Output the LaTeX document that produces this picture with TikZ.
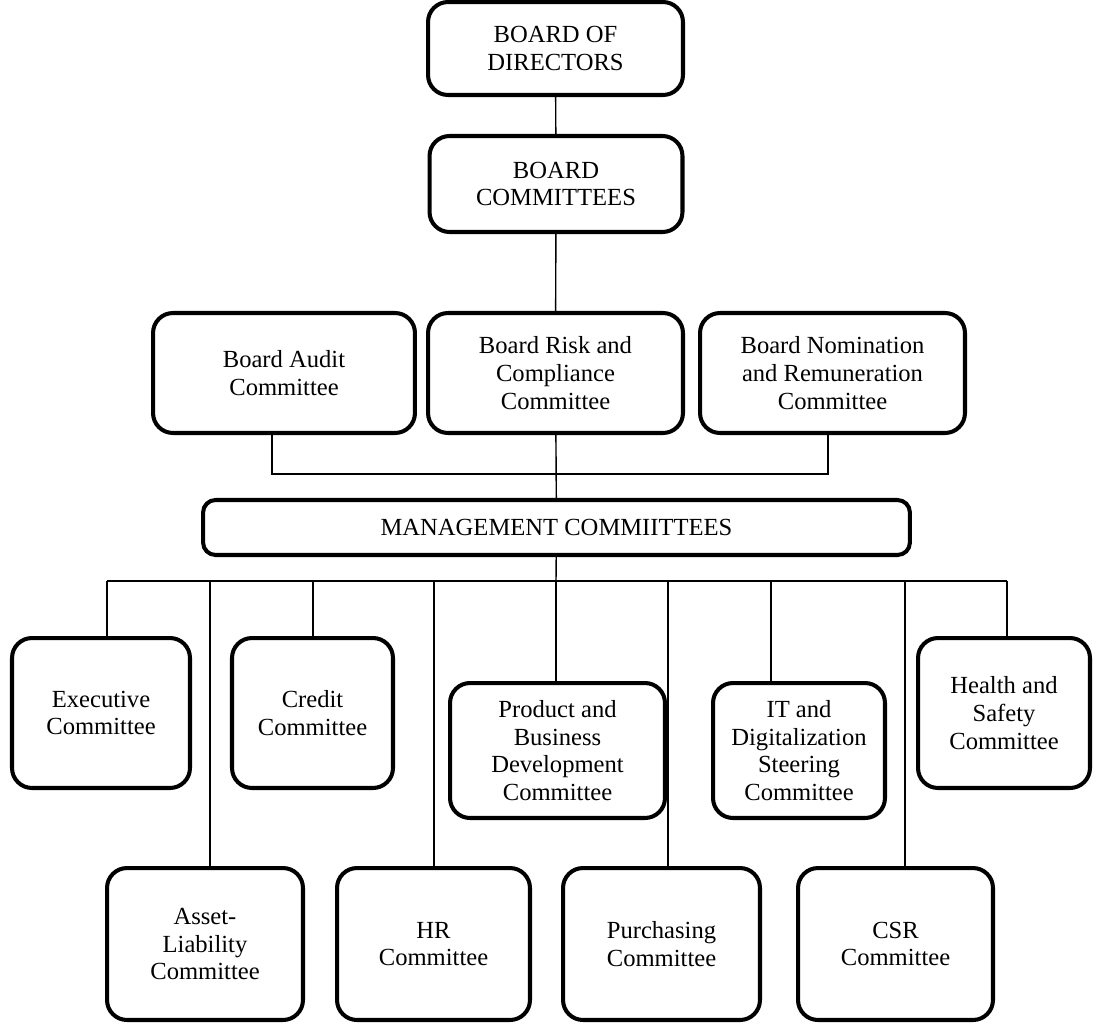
\documentclass[tikz,border=0pt]{standalone}
\usepackage{fontspec}
\setmainfont{Liberation Serif}
\begin{document}
\begin{tikzpicture}[x=0.02cm,y=-0.02cm,
  box/.style={draw=black,line width=2.3pt,rounded corners=0.4cm,align=center,
    inner sep=0pt,font=\fontsize{14pt}{15.8pt}\selectfont},
  conn/.style={draw=black,line width=0.8pt}]
\useasboundingbox (0,0) rectangle (1099,1025);
% boxes
\node[box,minimum width=5.10cm,minimum height=1.86cm] (bod) at (555.5,48.5) {BOARD OF\\DIRECTORS};
\node[box,minimum width=5.06cm,minimum height=1.92cm] (bc) at (556,184) {BOARD\\COMMITTEES};
\node[box,minimum width=5.24cm,minimum height=2.40cm] (bac) at (284,373) {Board Audit\\Committee};
\node[box,minimum width=5.10cm,minimum height=2.40cm] (brc) at (555.5,373) {Board Risk and\\Compliance\\Committee};
\node[box,minimum width=5.30cm,minimum height=2.40cm] (bnrc) at (832.5,373) {Board Nomination\\and Remuneration\\Committee};
\node[box,rounded corners=0.25cm,minimum width=14.14cm,minimum height=1.10cm] (mc) at (556.5,527.5) {MANAGEMENT COMMIITTEES};
% top row
\node[box,minimum width=3.56cm,minimum height=3.00cm] (exec) at (101,713) {Executive\\Committee};
\node[box,minimum width=3.22cm,minimum height=3.00cm] (cred) at (312.5,713) {Credit\\Committee};
\node[box,minimum width=4.30cm,minimum height=2.70cm] (prod) at (557.5,750.5) {Product and\\Business\\Development\\Committee};
\node[box,minimum width=3.44cm,minimum height=2.70cm] (it) at (799,750.5) {IT and\\Digitalization\\Steering\\Committee};
\node[box,minimum width=3.44cm,minimum height=3.00cm] (hs) at (1004,713) {Health and\\Safety\\Committee};
% bottom row
\node[box,minimum width=3.92cm,minimum height=3.04cm] (alc) at (205,944) {Asset-\\Liability\\Committee};
\node[box,minimum width=3.86cm,minimum height=3.04cm] (hr) at (433.5,944) {HR\\Committee};
\node[box,minimum width=3.94cm,minimum height=3.04cm] (pur) at (661.5,944) {Purchasing\\Committee};
\node[box,minimum width=3.90cm,minimum height=3.04cm] (csr) at (895.5,944) {CSR\\Committee};
% connector points
\coordinate (j2) at (556,581);
\coordinate (cexec) at (107,581);
\coordinate (calc) at (210,581);
\coordinate (ccred) at (313,581);
\coordinate (chr) at (434,581);
\coordinate (cprod) at (556,581);
\coordinate (cpur) at (668,581);
\coordinate (cit) at (771,581);
\coordinate (ccsr) at (905,581);
\coordinate (chs) at (1007,581);
\coordinate (cbac) at (272,474);
\coordinate (cbnrc) at (828,474);
% connectors
\draw[conn] (bod) -- (bc);
\draw[conn] (bc) -- (brc);
\draw[conn] (brc) -- (mc);
\draw[conn] (cbac |- bac.south) -- (cbac) -- (cbnrc) -- (cbnrc |- bnrc.south);
\draw[conn] (mc) -- (j2);
\draw[conn] (cexec) -- (chs);
\foreach \c/\n in {cexec/exec,calc/alc,ccred/cred,chr/hr,cprod/prod,cpur/pur,cit/it,ccsr/csr,chs/hs}
  \draw[conn] (\c) -- (\c |- \n.north);
\end{tikzpicture}
\end{document}
